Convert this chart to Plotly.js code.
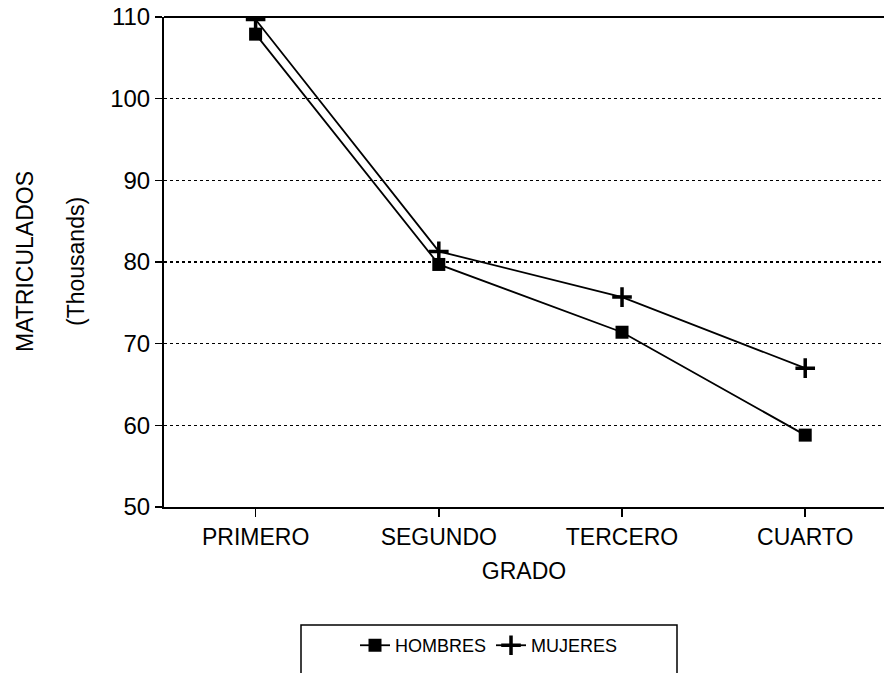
<!DOCTYPE html>
<html>
<head>
<meta charset="utf-8">
<script src="https://cdn.plot.ly/plotly-3.0.1.min.js"></script>
<style>html,body{margin:0;padding:0;background:#fff;overflow:hidden;}#chart{width:892px;height:673px;}</style>
</head>
<body>
<div id="chart"></div>
<script>
const categories = ["PRIMERO", "SEGUNDO", "TERCERO", "CUARTO"];
const hombres = [107.9, 79.7, 71.4, 58.8];
const mujeres = [109.7, 81.3, 75.7, 67.0];
const yTicks = [50, 60, 70, 80, 90, 100, 110];

const font = "Liberation Sans, Arial, Helvetica, sans-serif";
const plotW = 892 - 164 - 8;

const traces = [
  {
    x: categories, y: hombres, name: "HOMBRES", type: "scatter", mode: "lines+markers",
    line: {color: "#000", width: 1.8},
    marker: {symbol: "square", size: 13, color: "#000"}
  },
  {
    x: categories, y: mujeres, name: "MUJERES", type: "scatter", mode: "lines+markers",
    line: {color: "#000", width: 1.8},
    marker: {symbol: "cross-thin", size: 14, color: "#000", line: {color: "#000", width: 3.5}}
  }
];

const layout = {
  width: 892, height: 673,
  margin: {l: 164, r: 8, t: 17, b: 166, pad: 0},
  paper_bgcolor: "#fff", plot_bgcolor: "#fff",
  font: {family: font, color: "#000", size: 23},
  showlegend: true,
  legend: {
    orientation: "h", x: (489 - 164) / plotW, xanchor: "center", y: -0.245, yanchor: "top",
    bgcolor: "rgba(0,0,0,0)", borderwidth: 0,
    font: {family: font, size: 18, color: "#000"}
  },
  xaxis: {
    type: "category", range: [-0.5, 3.43],
    showline: true, linecolor: "#000", linewidth: 2, mirror: false,
    ticks: "outside", ticklen: 8, tickwidth: 1.5, tickcolor: "#000",
    showgrid: false, zeroline: false,
    tickfont: {family: font, size: 23, color: "#000"},
    title: {text: "GRADO", standoff: 14, font: {family: font, size: 23, color: "#000"}}
  },
  yaxis: {
    range: [50, 110], tickvals: yTicks,
    showline: true, linecolor: "#000", linewidth: 2, mirror: false,
    ticks: "outside", ticklen: 7, tickwidth: 1.5, tickcolor: "#000",
    showgrid: true, gridcolor: "#000", gridwidth: 1.5, griddash: "dot",
    zeroline: false,
    tickfont: {family: font, size: 24, color: "#000"}
  },
  annotations: [
    {text: "MATRICULADOS", xref: "paper", yref: "paper", x: (25 - 164) / plotW, y: 0.5,
     xanchor: "center", yanchor: "middle", textangle: -90, showarrow: false,
     font: {family: font, size: 23, color: "#000"}},
    {text: "(Thousands)", xref: "paper", yref: "paper", x: (76 - 164) / plotW, y: 0.5,
     xanchor: "center", yanchor: "middle", textangle: -90, showarrow: false,
     font: {family: font, size: 23, color: "#000"}}
  ],
  shapes: [
    {type: "line", xref: "paper", yref: "paper", x0: 0, x1: 1, y0: 1, y1: 1,
     line: {color: "#000", width: 2}},
    {type: "rect", xref: "paper", yref: "paper",
     x0: (301 - 164) / plotW, x1: (677 - 164) / plotW, y0: -0.241, y1: -0.45,
     line: {color: "#000", width: 1.5}, fillcolor: "rgba(0,0,0,0)"}
  ]
};

Plotly.newPlot("chart", traces, layout, {displayModeBar: false, staticPlot: true});
</script>
</body>
</html>
